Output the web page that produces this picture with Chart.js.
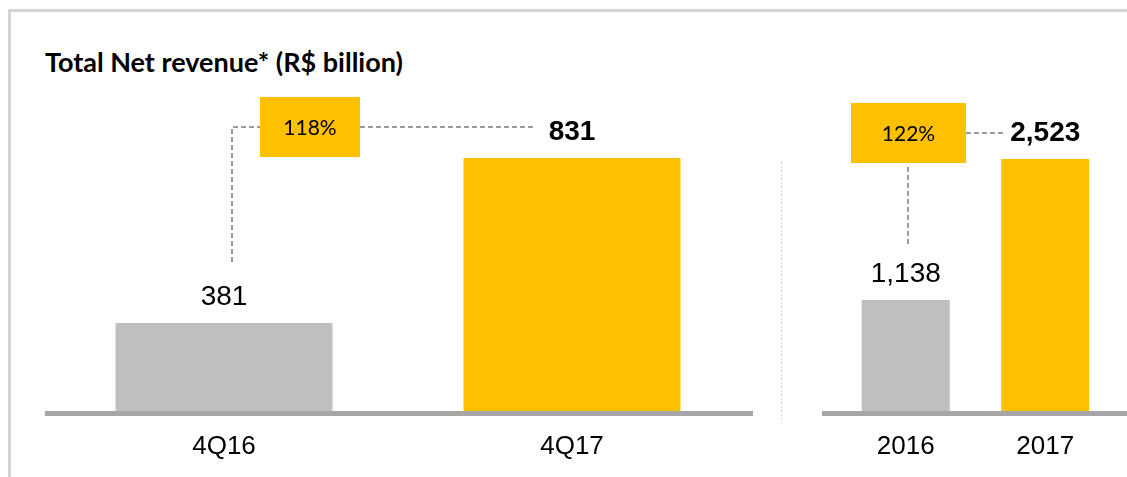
<!DOCTYPE html>
<html>
<head>
<meta charset="utf-8">
<title>Total Net revenue</title>
<script src="https://cdn.jsdelivr.net/npm/chart.js@4.4.1/dist/chart.umd.min.js"></script>
<style>
  body { margin: 0; background: #fff; }
  #wrap { position: relative; width: 1127px; height: 477px; overflow: hidden; }
  #frame {
    position: absolute; left: 8px; top: 9px; right: -10px; bottom: -10px;
    border-top: 3px solid #d4d4d4; border-left: 3px solid #d4d4d4;
  }
  #title {
    position: absolute; left: 45px; top: 45px;
    font: bold 27px Lato, "Open Sans", sans-serif; color: #000; white-space: nowrap;
  }
  canvas { position: absolute; left: 0; top: 0; }
</style>
</head>
<body>
<div id="wrap">
  <div id="frame"></div>
  <div id="title">Total Net revenue* (R$ billion)</div>
  <canvas id="quarterChart" width="1127" height="477"></canvas>
  <canvas id="yearChart" width="1127" height="477"></canvas>
</div>
<script>
// Net revenue, R$ billion
const quarterLabels = ['4Q16', '4Q17'];
const quarterRevenue = [381, 831];
const yearLabels = ['2016', '2017'];
const yearRevenue = [1138, 2523];
const growthLabels = ['118%', '122%'];
const barColors = ['#BFBFBF', '#FFC000'];

const numberFont = '"Liberation Sans", Arial, sans-serif';

function dashedPath(ctx, points) {
    ctx.beginPath();
    points.forEach(([x, y], i) => (i === 0 ? ctx.moveTo(x, y) : ctx.lineTo(x, y)));
    ctx.stroke();
}

// Base line, value labels, growth box and its connectors
const revenueDecor = {
    id: 'revenueDecor',
    afterDatasetsDraw(chart, args, opts) {
        const ctx = chart.ctx;
        const area = chart.chartArea;
        const bars = chart.getDatasetMeta(0).data;
        const values = chart.data.datasets[0].data;
        ctx.save();

        ctx.fillStyle = '#a6a6a6';
        ctx.fillRect(opts.baseFrom, area.bottom, opts.baseTo - opts.baseFrom, 5);

        ctx.fillStyle = '#000';
        ctx.textAlign = 'center';
        ctx.textBaseline = 'middle';
        bars.forEach((bar, i) => {
            ctx.font = (i === 1 ? 'bold ' : '') + '28px ' + numberFont;
            ctx.fillText(values[i].toLocaleString('en-US'), bar.x, bar.y - 26);
        });

        ctx.strokeStyle = '#9a9a9a';
        ctx.lineWidth = 2;
        ctx.setLineDash([5, 3]);
        opts.connectors.forEach(points => dashedPath(ctx, points));

        if (opts.divider) {
            ctx.strokeStyle = '#d9d9d9';
            ctx.lineWidth = 1;
            ctx.setLineDash([2, 2]);
            dashedPath(ctx, [[opts.divider.x, opts.divider.from], [opts.divider.x, opts.divider.to]]);
        }
        ctx.setLineDash([]);

        const box = opts.box;
        ctx.fillStyle = '#FFC000';
        ctx.fillRect(box.x, box.y, box.w, box.h);
        ctx.fillStyle = '#000';
        ctx.font = '21px Lato, "Open Sans", sans-serif';
        ctx.fillText(opts.growth, box.x + box.w / 2, box.y + box.h / 2 + 1);

        ctx.restore();
    }
};

function makeChart(id, labels, values, cfg) {
    return new Chart(document.getElementById(id), {
        type: 'bar',
        data: {
            labels: labels,
            datasets: [{
                data: values,
                backgroundColor: barColors,
                barPercentage: 1,
                categoryPercentage: cfg.barShare,
            }],
        },
        options: {
            responsive: false,
            animation: false,
            layout: { padding: { left: cfg.left, right: 1127 - cfg.right, top: 90, bottom: 0 } },
            plugins: {
                legend: { display: false },
                tooltip: { enabled: false },
                revenueDecor: cfg.decor,
            },
            scales: {
                x: {
                    grid: { display: false, drawTicks: false },
                    border: { display: false },
                    ticks: { color: '#000', padding: 20, font: { family: numberFont, size: 26 } },
                    afterFit: scale => { scale.height = 66; },
                },
                y: { display: false, min: cfg.min, max: cfg.max },
            },
        },
        plugins: [revenueDecor],
    });
}

makeChart('quarterChart', quarterLabels, quarterRevenue, {
    left: 50, right: 746, barShare: 0.6236, min: 141, max: 1016.5,
    decor: {
        baseFrom: 45, baseTo: 753,
        growth: growthLabels[0],
        box: { x: 260, y: 97, w: 100, h: 60 },
        connectors: [[[232, 262], [232, 127], [260, 127]], [[360, 127], [533, 127]]],
        divider: { x: 781.5, from: 162, to: 423 },
    },
});

makeChart('yearChart', yearLabels, yearRevenue, {
    left: 836, right: 1115, barShare: 0.631, min: 48, max: 3201,
    decor: {
        baseFrom: 822, baseTo: 1127,
        growth: growthLabels[1],
        box: { x: 851, y: 103, w: 115, h: 60 },
        connectors: [[[908, 244], [908, 167]], [[966, 133], [1003, 133]]],
    },
});
</script>
</body>
</html>
